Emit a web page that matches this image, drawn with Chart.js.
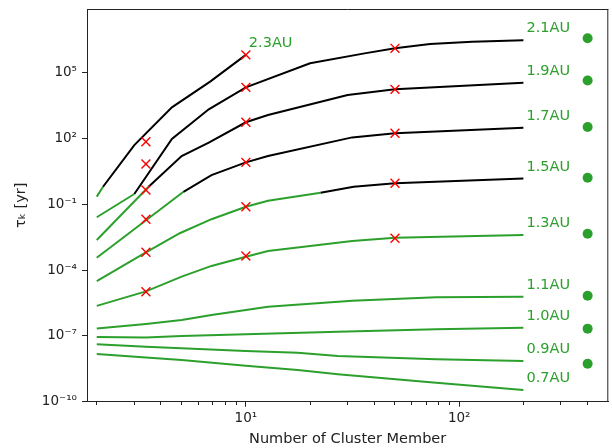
<!DOCTYPE html>
<html>
<head>
<meta charset="utf-8">
<script src="https://cdn.jsdelivr.net/npm/chart.js@4.4.0/dist/chart.umd.min.js"></script>
<style>
html, body { margin: 0; padding: 0; background: #fff; overflow: hidden; width: 612px; height: 448px; }
canvas { display: block; }
</style>
</head>
<body>
<canvas id="mycanvas" width="616" height="448"></canvas>
<script>
// values are log10(tau_k / yr)
var n_23 = [2, 2.14, 3, 4.5, 6.8, 10];
var logtau_23 = [-0.65, -0.20, 1.70, 3.42, 4.59, 5.81];

var n_21 = [2, 3, 4.5, 6.7, 10, 20, 36, 50, 73, 115, 200];
var logtau_21 = [-1.59, -0.53, 1.98, 3.33, 4.33, 5.43, 5.88, 6.11, 6.31, 6.41, 6.48];

var n_19 = [2, 3.5, 5, 6.7, 10, 12.7, 30, 50, 200];
var logtau_19 = [-2.63, -0.20, 1.20, 1.81, 2.74, 3.07, 3.98, 4.24, 4.54];

var n_17 = [2, 5.1, 6.9, 10, 12.7, 31.5, 50, 200];
var logtau_17 = [-3.44, -0.43, 0.33, 0.91, 1.20, 2.05, 2.24, 2.49];

var n_15 = [2, 3.4, 4.9, 6.9, 10, 12.7, 22.4, 32, 50, 200];
var logtau_15 = [-4.50, -3.19, -2.32, -1.68, -1.11, -0.84, -0.47, -0.20, -0.04, 0.17];

var n_13 = [2, 3.4, 5, 6.9, 10, 12.7, 31.5, 50, 200];
var logtau_13 = [-5.63, -4.97, -4.30, -3.81, -3.39, -3.13, -2.67, -2.53, -2.40];

var n_11 = [2, 3.4, 5, 6.9, 10, 12.7, 31.5, 78, 200];
var logtau_11 = [-6.66, -6.46, -6.28, -6.05, -5.82, -5.67, -5.40, -5.24, -5.21];

var n_10 = [2, 3.4, 5, 10, 27, 78, 200];
var logtau_10 = [-7.05, -7.07, -7.01, -6.92, -6.81, -6.70, -6.63];

var n_09 = [2, 3.4, 10, 17.5, 27, 78, 200];
var logtau_09 = [-7.38, -7.49, -7.69, -7.77, -7.92, -8.07, -8.15];

var n_07 = [2, 3.4, 5, 10, 17.5, 27, 78, 200];
var logtau_07 = [-7.83, -7.98, -8.10, -8.36, -8.56, -8.75, -9.14, -9.47];

var curveLabels = ["2.3AU", "2.1AU", "1.9AU", "1.7AU", "1.5AU", "1.3AU", "1.1AU", "1.0AU", "0.9AU", "0.7AU"];
// index of the first black segment (-1 = all green)
var blackFrom = [1, 1, 1, 1, 6, -1, -1, -1, -1, -1];

// red crosses
var crossN = [3.4, 3.4, 3.4, 3.4, 3.4, 3.4, 10, 10, 10, 10, 10, 10, 50, 50, 50, 50, 50];
var crossLogTau = [1.85, 0.84, -0.35, -1.68, -3.19, -4.99, 5.81, 4.33, 2.74, 0.91, -1.11, -3.36, 6.11, 4.24, 2.24, -0.04, -2.55];

// green dots on the right
var dotN = [400, 400, 400, 400, 400, 400, 400, 400];
var dotLogTau = [6.57, 4.64, 2.52, 0.21, -2.34, -5.17, -6.67, -8.27];

var xTickValues = [2, 3, 4, 5, 6, 7, 8, 9, 10, 20, 30, 40, 50, 60, 70, 80, 90, 100, 200, 300, 400];
var xTickLabels = ["", "", "", "", "", "", "", "", "10\u00b9", "", "", "", "", "", "", "", "", "10\u00b2", "", "", ""];
var yTickValues = [1e-10, 1e-7, 1e-4, 1e-1, 1e2, 1e5];
var yTickLabels = ["10\u207b\u00b9\u2070", "10\u207b\u2077", "10\u207b\u2074", "10\u207b\u00b9", "10\u00b2", "10\u2075"];

var green = "#2ca02c";
var axisColor = "#222";

function toPoints(ns, logs) {
	var pts = [];
	for (var i = 0; i < ns.length; i++) {
		pts.push({x: ns[i], y: Math.pow(10, logs[i])});
	}
	return pts;
}

var curveN = [n_23, n_21, n_19, n_17, n_15, n_13, n_11, n_10, n_09, n_07];
var curveLog = [logtau_23, logtau_21, logtau_19, logtau_17, logtau_15, logtau_13, logtau_11, logtau_10, logtau_09, logtau_07];

var datasets = [];
datasets.push({
	label: "cross",
	data: toPoints(crossN, crossLogTau),
	showLine: false,
	pointStyle: "crossRot",
	pointRadius: 6.3,
	borderColor: "#ff0000",
	borderWidth: 1.4,
	order: 0
});
datasets.push({
	label: "dots",
	data: toPoints(dotN, dotLogTau),
	showLine: false,
	pointStyle: "circle",
	pointRadius: 5,
	backgroundColor: green,
	borderWidth: 0,
	order: 1
});

for (var c = 0; c < curveN.length; c++) {
	(function(bf) {
		datasets.push({
			label: curveLabels[c],
			data: toPoints(curveN[c], curveLog[c]),
			showLine: true,
			fill: false,
			tension: 0,
			pointRadius: 0,
			borderWidth: 2,
			borderColor: green,
			borderCapStyle: "butt",
			segment: {
				borderColor: function(ctx) {
					return (bf >= 0 && ctx.p0DataIndex >= bf) ? "black" : green;
				}
			},
			order: 2 + c,
			isCurve: true
		});
	})(blackFrom[c]);
}

// frame on top + AU labels next to the end of each curve
var extrasPlugin = {
	id: "extras",
	afterDraw: function(chart) {
		var ctx = chart.ctx;
		var a = chart.chartArea;
		ctx.save();
		ctx.strokeStyle = axisColor;
		ctx.lineWidth = 1;
		ctx.beginPath();
		ctx.moveTo(a.left, a.top + 0.5);
		ctx.lineTo(a.right, a.top + 0.5);
		ctx.moveTo(a.right - 0.5, a.top);
		ctx.lineTo(a.right - 0.5, a.bottom);
		ctx.stroke();

		ctx.fillStyle = green;
		ctx.font = "14.5px 'DejaVu Sans'";
		ctx.textAlign = "left";
		ctx.textBaseline = "middle";
		chart.data.datasets.forEach(function(ds, i) {
			if (!ds.isCurve) return;
			var meta = chart.getDatasetMeta(i);
			var last = meta.data[meta.data.length - 1];
			ctx.fillText(ds.label, last.x + 3, last.y - 11.5);
		});
		ctx.restore();
	}
};

Chart.defaults.font.family = "'DejaVu Sans'";

var chart = new Chart(document.getElementById("mycanvas"), {
	type: "scatter",
	data: { datasets: datasets },
	options: {
		responsive: false,
		animation: false,
		events: [],
		layout: { padding: { top: 9, right: 2, left: 0, bottom: 0 } },
		plugins: { legend: { display: false }, tooltip: { enabled: false } },
		scales: {
			x: {
				type: "logarithmic",
				min: 1.8,
				max: 500,
				border: { display: true, color: axisColor, width: 1 },
				grid: {
					display: true,
					drawOnChartArea: false,
					drawTicks: true,
					tickLength: 5,
					tickColor: axisColor,
					tickWidth: 1,
					tickBorderDash: function(ctx) {
						var v = ctx.tick ? ctx.tick.value : 0;
						return (v === 10 || v === 100) ? [] : [3, 50];
					}
				},
				ticks: {
					autoSkip: false,
					maxRotation: 0,
					color: axisColor,
					padding: 4,
					font: { size: 13.5 },
					callback: function(value, index) { return xTickLabels[index]; }
				},
				afterBuildTicks: function(scale) {
					scale.ticks = xTickValues.map(function(v) { return {value: v}; });
				},
				afterFit: function(scale) {
					scale.height = 46.3;
					scale.paddingLeft = 0;
					scale.paddingRight = 0;
				},
				title: {
					display: true,
					text: "Number of Cluster Member",
					color: axisColor,
					font: { size: 14.5 },
					padding: { top: 0, bottom: 0 }
				}
			},
			y: {
				type: "logarithmic",
				min: 1e-10,
				max: 8e7,
				border: { display: true, color: axisColor, width: 1 },
				grid: {
					display: true,
					drawOnChartArea: false,
					drawTicks: true,
					tickLength: 5,
					tickColor: axisColor,
					tickWidth: 1
				},
				ticks: {
					autoSkip: false,
					color: axisColor,
					padding: 5,
					font: { size: 13.5 },
					callback: function(value, index) { return yTickLabels[index]; }
				},
				afterBuildTicks: function(scale) {
					scale.ticks = yTickValues.map(function(v) { return {value: v}; });
				},
				afterFit: function(scale) {
					scale.width = 87;
					scale.paddingTop = 0;
					scale.paddingBottom = 0;
				},
				title: {
					display: true,
					text: "\u03c4\u2096 [yr]",
					color: axisColor,
					font: { size: 14.5 },
					padding: { top: 13, bottom: 0 }
				}
			}
		}
	},
	plugins: [extrasPlugin]
});
</script>
</body>
</html>
